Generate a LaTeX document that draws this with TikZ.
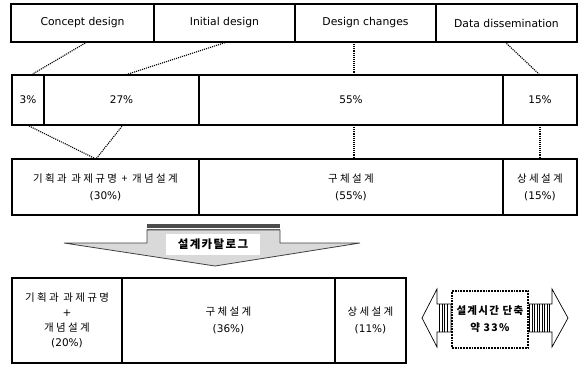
\documentclass[tikz,border=0pt]{standalone}
\usepackage{fontspec}
\setmainfont{DejaVu Sans}
\newfontfamily\kr[LetterSpace=22]{Noto Sans CJK KR}
\newfontfamily\krb[LetterSpace=12]{Noto Sans CJK KR}
\usetikzlibrary{calc}
\begin{document}
\begin{tikzpicture}[x=1pt,y=-1pt,
  cell/.style={draw,line width=1.3pt,anchor=north west,inner sep=0pt,outer sep=0pt,align=center,
    font=\fontsize{10.5}{17}\selectfont},
  link/.style={line width=1.1pt,densely dotted},
  catline/.style={draw=black!75,line width=0.8pt},
  shaftline/.style={line width=0.5pt},
  arrowshape/.style={draw=black,line width=0.7pt,fill=white},
]
\useasboundingbox (0,0) rectangle (579,365);

% row 1
\node[cell,minimum width=143pt,minimum height=38pt,font=\fontsize{10.8}{13}\selectfont] (a1) at (11,4) {Concept design};
\node[cell,minimum width=141pt,minimum height=38pt,font=\fontsize{10.8}{13}\selectfont] (a2) at (154,4) {Initial design};
\node[cell,minimum width=141pt,minimum height=38pt,font=\fontsize{10.8}{13}\selectfont] (a3) at (295,4) {Design changes};
\node[cell,minimum width=141pt,minimum height=38pt,font=\fontsize{10.8}{13}\selectfont] (a4) at (436,4) {Data dissemination};

% row 2
\node[cell,minimum width=32pt,minimum height=50pt] (b1) at (12,75) {3\%};
\node[cell,minimum width=155pt,minimum height=50pt] (b2) at (44,75) {27\%};
\node[cell,minimum width=304pt,minimum height=50pt] (b3) at (199,75) {55\%};
\node[cell,minimum width=74pt,minimum height=50pt] (b4) at (503,75) {15\%};

% row 3
\node[cell,minimum width=187pt,minimum height=56pt] (c1) at (12,159) {{\kr 기획과 과제규명 + 개념설계}\\(30\%)};
\node[cell,minimum width=304pt,minimum height=56pt] (c2) at (199,159) {{\kr 구체설계}\\(55\%)};
\node[cell,minimum width=74pt,minimum height=56pt] (c3) at (503,159) {{\kr 상세설계}\\(15\%)};

% connectors row1 -> row2
\coordinate (p1) at (87,42);  \coordinate (q1) at (31,75);
\coordinate (p2) at (227,42); \coordinate (q2) at (125,75);
\coordinate (p3) at (354,42); \coordinate (q3) at (354,75);
\coordinate (p4) at (505,42); \coordinate (q4) at (540,75);
\draw[link] (p1) -- (q1);
\draw[link] (p2) -- (q2);
\draw[link] (p3) -- (q3);
\draw[link] (p4) -- (q4);

% connectors row2 -> row3
\coordinate (r1) at (27,125); \coordinate (r2) at (123,125);
\coordinate (s1) at (96,159);
\coordinate (r3) at (354,125); \coordinate (s3) at (354,159);
\coordinate (r4) at (540,125); \coordinate (s4) at (540,159);
\draw[link] (r1) -- (s1) -- (r2);
\draw[link] (r3) -- (s3);
\draw[link] (r4) -- (s4);

% catalog arrow
\fill[black!70] (147,223.5) rectangle (280,227.5);
\draw[black!55,line width=0.8pt] (147,229.5) -- (280,229.5);
\path[catline,fill=black!15] (64,243) -- (147,243) -- (147,230) -- (280,230) -- (280,243) -- (360,243) -- (215,266) -- cycle;
\node[fill=white,inner sep=0pt,minimum width=94pt,minimum height=21pt,
  font=\krb\bfseries\fontsize{11.5}{13}\selectfont] (cat) at (213,244) {설계카탈로그};

% bottom row
\node[cell,minimum width=110pt,minimum height=85pt,font=\fontsize{10.5}{15}\selectfont] (d1) at (12,278) {{\kr 기획과 과제규명}\\+\\{\kr 개념설계}\\(20\%)};
\node[cell,minimum width=213pt,minimum height=85pt] (d2) at (122,278) {{\kr 구체설계}\\(36\%)};
\node[cell,minimum width=71pt,minimum height=85pt] (d3) at (335,278) {{\kr 상세설계}\\(11\%)};

% double arrow and box
\path[arrowshape] (422,318) -- (437,289) -- (437,304) -- (451,304) -- (451,332) -- (437,332) -- (437,347) -- cycle;
\foreach \x in {439.5,442,...,449} \draw[shaftline] (\x,304) -- (\x,332);
\path[arrowshape] (568,318) -- (552,289) -- (552,304) -- (527,304) -- (527,332) -- (552,332) -- (552,347) -- cycle;
\foreach \x in {529.5,532,...,550} \draw[shaftline] (\x,304) -- (\x,332);
\node[draw,line width=1.8pt,densely dotted,fill=white,anchor=north west,minimum width=76pt,minimum height=57pt,
  inner sep=0pt,align=center,font=\krb\bfseries\fontsize{10.5}{17}\selectfont] (e) at (451,290) {설계시간 단축\\약 33\%};
\end{tikzpicture}
\end{document}
